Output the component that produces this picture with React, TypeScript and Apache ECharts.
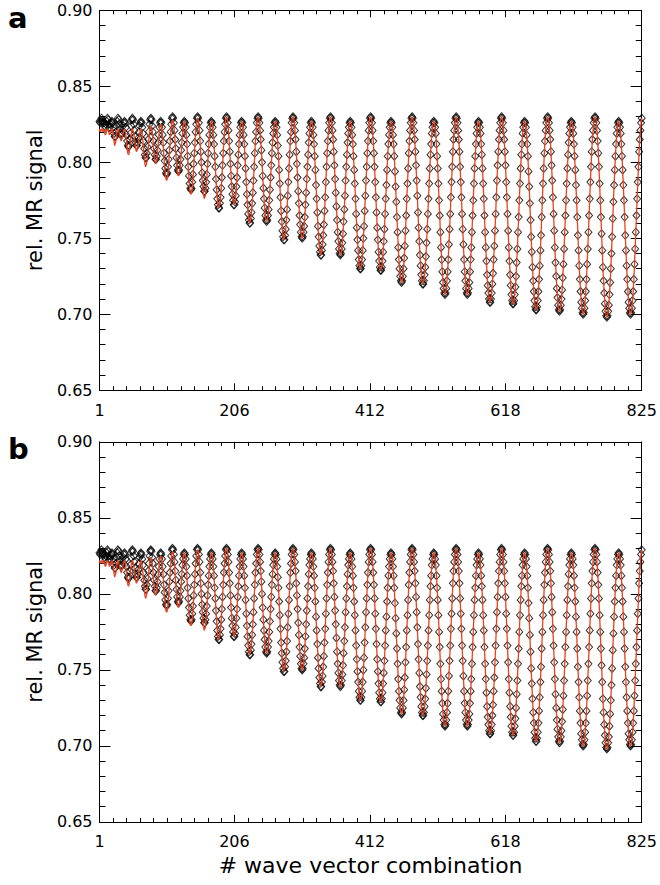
import React, { useEffect, useRef } from "react";
import * as echarts from "echarts";

// Measured signal (diamonds), in units of 0.001, one array per ring of wave vectors
const ring1 = [827, 826, 827, 829, 827, 826];
const ring2 = [827, 826, 824, 823, 825, 827, 829, 828, 825, 823, 823, 825, 826];
const ring3 = [827, 826, 823, 819, 817, 817, 820, 824, 827, 829, 828, 825, 822, 819, 818, 819, 821, 824, 826];
const ring4 = [827, 826, 823, 818, 814, 811, 810, 811, 815, 819, 824, 828, 829, 828, 825, 821, 817, 813, 811, 811, 813, 816, 820, 824, 826];
const ring5 = [827, 826, 823, 819, 814, 809, 805, 803, 803, 806, 810, 815, 820, 825, 828, 829, 828, 824, 820, 814, 809, 805, 802, 802, 804, 808, 813, 818, 823, 826];
const ring6 = [827, 826, 823, 818, 813, 806, 801, 796, 793, 792, 793, 797, 802, 808, 814, 820, 825, 829, 830, 829, 826, 821, 815, 809, 803, 798, 795, 794, 795, 798, 802, 808, 813, 819, 823, 826];
const ring7 = [827, 826, 823, 818, 812, 804, 797, 791, 786, 783, 782, 783, 787, 792, 799, 806, 813, 820, 825, 829, 830, 829, 826, 821, 814, 807, 800, 793, 788, 784, 781, 781, 783, 787, 792, 799, 806, 812, 818, 823, 826];
const ring8 = [827, 826, 823, 818, 812, 804, 797, 789, 782, 776, 772, 770, 770, 773, 777, 783, 790, 798, 806, 814, 820, 825, 829, 830, 829, 826, 821, 814, 807, 799, 791, 784, 779, 775, 772, 772, 774, 778, 784, 790, 798, 805, 812, 818, 823, 826];
const ring9 = [827, 826, 823, 818, 812, 804, 796, 787, 779, 772, 766, 762, 760, 760, 763, 767, 773, 780, 788, 797, 806, 814, 820, 826, 829, 830, 829, 826, 821, 815, 808, 800, 791, 783, 776, 770, 765, 762, 761, 762, 765, 769, 775, 782, 790, 798, 806, 813, 819, 823, 826];
const ring10 = [827, 826, 823, 818, 811, 804, 795, 786, 777, 768, 761, 755, 751, 749, 749, 752, 756, 762, 769, 778, 787, 796, 805, 814, 820, 826, 829, 830, 829, 826, 821, 815, 807, 799, 790, 781, 773, 765, 759, 754, 751, 750, 751, 754, 758, 764, 772, 780, 789, 797, 805, 813, 819, 823, 826];
const ring11 = [827, 826, 823, 818, 812, 804, 795, 785, 776, 767, 758, 751, 745, 741, 739, 739, 742, 746, 752, 759, 768, 777, 787, 797, 806, 814, 821, 826, 829, 830, 829, 826, 821, 815, 807, 798, 789, 780, 771, 762, 754, 748, 743, 740, 739, 740, 743, 747, 753, 761, 769, 778, 788, 797, 805, 813, 819, 823, 826];
const ring12 = [827, 826, 823, 818, 812, 804, 795, 786, 776, 766, 757, 749, 742, 736, 732, 730, 730, 732, 736, 742, 750, 758, 768, 778, 788, 797, 806, 814, 821, 826, 829, 830, 829, 826, 821, 814, 806, 797, 787, 777, 767, 757, 749, 741, 735, 731, 729, 729, 731, 735, 741, 748, 756, 766, 776, 785, 795, 804, 812, 818, 823, 826];
const ring13 = [827, 826, 823, 818, 812, 804, 794, 784, 774, 764, 754, 744, 736, 730, 725, 722, 721, 722, 725, 730, 737, 745, 755, 765, 776, 786, 796, 806, 814, 821, 826, 829, 830, 829, 826, 821, 815, 807, 798, 788, 778, 767, 757, 748, 739, 732, 726, 722, 720, 720, 722, 726, 731, 738, 747, 756, 766, 776, 786, 796, 805, 812, 819, 823, 826];
const ring14 = [827, 826, 823, 819, 812, 804, 796, 786, 775, 765, 754, 744, 736, 728, 721, 717, 714, 713, 714, 717, 722, 728, 736, 746, 756, 766, 777, 787, 797, 807, 815, 821, 826, 829, 830, 829, 826, 821, 815, 807, 797, 787, 777, 766, 756, 746, 736, 728, 722, 717, 714, 713, 714, 717, 721, 728, 736, 744, 754, 765, 775, 786, 796, 804, 812, 819, 823, 826];
const ring15 = [827, 826, 823, 819, 812, 805, 796, 786, 776, 765, 754, 744, 735, 726, 719, 714, 710, 708, 708, 710, 714, 720, 727, 736, 745, 755, 766, 777, 788, 798, 807, 815, 821, 826, 829, 830, 829, 826, 821, 815, 807, 798, 787, 777, 766, 755, 744, 735, 726, 719, 713, 709, 707, 707, 709, 713, 718, 725, 734, 743, 754, 764, 775, 786, 796, 805, 812, 819, 823, 826];
const ring16 = [827, 826, 823, 818, 812, 804, 794, 784, 773, 762, 751, 741, 731, 722, 715, 709, 705, 703, 703, 705, 709, 715, 723, 732, 742, 752, 764, 775, 786, 796, 806, 814, 821, 826, 829, 830, 829, 826, 821, 815, 807, 798, 788, 777, 766, 755, 744, 734, 725, 717, 711, 706, 703, 702, 703, 706, 710, 716, 724, 733, 743, 754, 765, 775, 786, 796, 805, 813, 819, 823, 826];
const ring17 = [827, 826, 823, 819, 812, 804, 795, 785, 775, 764, 752, 742, 732, 723, 715, 708, 704, 701, 700, 701, 704, 709, 715, 723, 733, 743, 754, 765, 776, 787, 797, 807, 815, 821, 826, 829, 830, 829, 826, 821, 814, 806, 797, 786, 775, 764, 753, 742, 731, 722, 714, 707, 702, 699, 698, 699, 702, 706, 713, 721, 730, 740, 751, 763, 774, 785, 795, 804, 812, 819, 823, 826];
const ring18 = [827, 826, 823, 819, 812, 804, 795, 785, 775, 764, 752, 742, 732, 723, 715, 708, 704, 701, 700, 701, 704, 709, 715, 723, 733, 743, 754, 765, 776, 787, 797, 807, 815, 821, 826, 829];

// Fitted model (red line) where it departs from the measured points (first rings)
const fit1 = [822, 820, 821, 822, 821, 820];
const fit2 = [822, 821, 819, 818, 819, 821, 822, 821, 820, 818, 818, 820, 821];
const fit3 = [822, 821, 817, 814, 811, 811, 814, 817, 821, 822, 821, 819, 817, 815, 814, 815, 817, 819, 821];
const fit4 = [822, 821, 818, 814, 809, 806, 805, 806, 809, 814, 818, 821, 822, 821, 819, 815, 812, 809, 807, 807, 809, 812, 815, 819, 821];
const fit5 = [822, 821, 818, 814, 808, 803, 799, 797, 797, 800, 804, 809, 815, 820, 823, 824, 823, 820, 816, 810, 805, 801, 799, 799, 802, 806, 811, 816, 821, 824];
const fit6 = [825, 824, 821, 816, 810, 803, 797, 792, 789, 788, 789, 793, 798, 805, 811, 818, 823, 827, 828, 827, 824, 819, 812, 806, 800, 795, 792, 791, 792, 795, 799, 805, 812, 818, 823, 826];
const fit7 = [827, 826, 822, 817, 810, 803, 795, 789, 783, 780, 779, 780, 784, 789, 796, 804, 812, 819, 824, 828, 829, 828, 824, 819, 812, 804, 797, 789, 783, 779, 776, 776, 778, 783, 789, 796, 803, 811, 818, 823, 826];

const measured = [
  ...ring1, ...ring2, ...ring3, ...ring4, ...ring5, ...ring6, ...ring7, ...ring8, ...ring9,
  ...ring10, ...ring11, ...ring12, ...ring13, ...ring14, ...ring15, ...ring16, ...ring17, ...ring18,
];
const fitEarly = [...fit1, ...fit2, ...fit3, ...fit4, ...fit5, ...fit6, ...fit7];
const fitted = [...fitEarly, ...measured.slice(fitEarly.length)];

const xMin = 1;
const xMax = 825;
const xStep = 206;
const xTickValues = [1, 206, 412, 618, 825];
const yMin = 0.65;
const yMax = 0.9;
const yStep = 0.05;
const panelLetters = ["a", "b"];
const yTitle = "rel. MR signal";
const xTitle = "# wave vector combination";

const toPairs = (vals: number[]) => vals.map((v, i) => [i + 1, v / 1000]);

const FONT = "DejaVu Sans";

export default function App() {
  const ref = useRef<HTMLDivElement>(null);

  useEffect(() => {
    if (!ref.current) return;
    const chart = echarts.init(ref.current, null, { renderer: "svg" });

    const gridTops = [10.3, 441.9];
    const grids = gridTops.map((t) => ({ left: 99.5, top: t, width: 543, height: 380, containLabel: false }));

    const axisLine = { show: true, onZero: false, lineStyle: { color: "#000", width: 1 } };

    const xAxes: any[] = [];
    const yAxes: any[] = [];
    [0, 1].forEach((g) => {
      const base = {
        type: "value",
        gridIndex: g,
        min: xMin,
        max: xMax,
        interval: xStep,
        axisLine,
        axisTick: {
          show: true,
          inside: true,
          length: 7,
          customValues: xTickValues,
          lineStyle: { color: "#000", width: 1 },
        },
        minorTick: { show: true, splitNumber: 10, length: 4, lineStyle: { color: "#000", width: 1 } },
        splitLine: { show: false },
        minorSplitLine: { show: false },
      };
      xAxes.push({
        ...base,
        position: "bottom",
        axisLabel: {
          show: true,
          color: "#000",
          fontFamily: FONT,
          fontSize: 16,
          margin: 12,
          customValues: xTickValues,
          formatter: (v: number) => String(v),
        },
        name: g === 1 ? xTitle : "",
        nameLocation: "middle",
        nameGap: 33,
        nameTextStyle: { color: "#000", fontFamily: FONT, fontSize: 22 },
      });
      xAxes.push({ ...base, position: "top", axisLabel: { show: false } });

      const ybase = {
        type: "value",
        gridIndex: g,
        min: yMin,
        max: yMax,
        interval: yStep,
        axisLine,
        axisTick: { show: true, inside: true, length: 11, lineStyle: { color: "#000", width: 1 } },
        minorTick: { show: true, splitNumber: 5, length: 6, lineStyle: { color: "#000", width: 1 } },
        splitLine: { show: false },
        minorSplitLine: { show: false },
      };
      yAxes.push({
        ...ybase,
        position: "left",
        axisLabel: {
          show: true,
          color: "#000",
          fontFamily: FONT,
          fontSize: 16,
          margin: 7,
          formatter: (v: number) => v.toFixed(2),
        },
        name: yTitle,
        nameLocation: "middle",
        nameGap: 49,
        nameRotate: 90,
        nameTextStyle: { color: "#000", fontFamily: FONT, fontSize: 21 },
      });
      yAxes.push({ ...ybase, position: "right", axisLabel: { show: false } });
    });

    const series: any[] = [];
    [0, 1].forEach((g) => {
      series.push({
        type: "scatter",
        xAxisIndex: g * 2,
        yAxisIndex: g * 2,
        data: toPairs(measured),
        symbol: "diamond",
        symbolSize: [7, 8],
        itemStyle: { color: "rgba(0,0,0,0)", borderColor: "#000", borderWidth: 1 },
        large: false,
        progressive: 0,
        silent: true,
        z: 2,
      });
      series.push({
        type: "line",
        xAxisIndex: g * 2,
        yAxisIndex: g * 2,
        data: toPairs(fitted),
        showSymbol: false,
        symbol: "none",
        lineStyle: { color: "#e8431f", width: 1.3 },
        silent: true,
        progressive: 0,
        z: 3,
      });
    });

    chart.setOption({
      animation: false,
      backgroundColor: "#fff",
      grid: grids,
      xAxis: xAxes,
      yAxis: yAxes,
      series,
      graphic: panelLetters.map((t, i) => ({
        type: "text",
        left: 8,
        top: 3 + i * 431.6,
        style: { text: t, fontFamily: FONT, fontSize: 29, fontWeight: "bold", fill: "#000" },
      })),
    });

    return () => chart.dispose();
  }, []);

  return (
    <div
      ref={ref}
      style={{ position: "fixed", left: 0, top: 0, width: 660, height: 885, background: "#fff" }}
    />
  );
}
